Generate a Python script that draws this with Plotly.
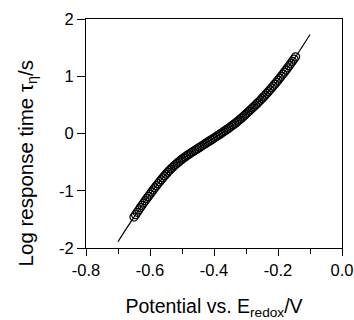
import plotly.graph_objects as go

# Measured data (open circles)
potential = [-0.650, -0.645, -0.640, -0.635, -0.630, -0.625, -0.620, -0.615, -0.610, -0.605,
             -0.600, -0.595, -0.590, -0.585, -0.580, -0.575, -0.570, -0.565, -0.560, -0.555,
             -0.550, -0.545, -0.540, -0.535, -0.530, -0.525, -0.520, -0.515, -0.510, -0.505,
             -0.500, -0.495, -0.490, -0.485, -0.480, -0.475, -0.470, -0.465, -0.460, -0.455,
             -0.450, -0.445, -0.440, -0.435, -0.430, -0.425, -0.420, -0.415, -0.410, -0.405,
             -0.400, -0.395, -0.390, -0.385, -0.380, -0.375, -0.370, -0.365, -0.360, -0.355,
             -0.350, -0.345, -0.340, -0.335, -0.330, -0.325, -0.320, -0.315, -0.310, -0.305,
             -0.300, -0.295, -0.290, -0.285, -0.280, -0.275, -0.270, -0.265, -0.260, -0.255,
             -0.250, -0.245, -0.240, -0.235, -0.230, -0.225, -0.220, -0.215, -0.210, -0.205,
             -0.200, -0.195, -0.190, -0.185, -0.180, -0.175, -0.170, -0.165, -0.160, -0.155,
             -0.150, -0.145]
log_tau = [-1.460, -1.418, -1.376, -1.335, -1.294, -1.254, -1.214, -1.175, -1.136, -1.098,
           -1.060, -1.022, -0.985, -0.948, -0.912, -0.877, -0.842, -0.808, -0.775, -0.742,
           -0.710, -0.679, -0.649, -0.620, -0.593, -0.567, -0.542, -0.518, -0.495, -0.472,
           -0.450, -0.429, -0.408, -0.388, -0.369, -0.350, -0.332, -0.314, -0.296, -0.278,
           -0.260, -0.242, -0.224, -0.206, -0.188, -0.170, -0.152, -0.134, -0.116, -0.098,
           -0.080, -0.062, -0.044, -0.026, -0.007, 0.012, 0.031, 0.050, 0.070, 0.090,
           0.110, 0.130, 0.151, 0.172, 0.194, 0.217, 0.240, 0.264, 0.289, 0.314,
           0.340, 0.366, 0.392, 0.418, 0.445, 0.472, 0.499, 0.526, 0.554, 0.582,
           0.610, 0.640, 0.670, 0.701, 0.732, 0.764, 0.796, 0.829, 0.862, 0.896,
           0.930, 0.965, 1.000, 1.036, 1.072, 1.109, 1.146, 1.184, 1.222, 1.261,
           1.300, 1.340]

# Fitted curve (solid line)
fit_potential = [-0.700, -0.675, -0.650, -0.625, -0.600, -0.575, -0.550, -0.525, -0.500,
                 -0.475, -0.450, -0.425, -0.400, -0.375, -0.350, -0.325, -0.300, -0.275,
                 -0.250, -0.225, -0.200, -0.175, -0.150, -0.125, -0.100]
fit_log_tau = [-1.890, -1.670, -1.460, -1.254, -1.060, -0.877, -0.710, -0.567, -0.450,
               -0.350, -0.260, -0.170, -0.080, 0.012, 0.110, 0.217, 0.340, 0.472,
               0.610, 0.764, 0.930, 1.109, 1.300, 1.510, 1.730]

x_tickvals = [-0.8, -0.6, -0.4, -0.2, 0.0]
x_ticktext = ["-0.8", "-0.6", "-0.4", "-0.2", "0.0"]
y_tickvals = [-2, -1, 0, 1, 2]
y_ticktext = ["-2", "-1", "0", "1", "2"]

font_family = "Liberation Sans, Arial, sans-serif"

fig = go.Figure()
fig.add_trace(go.Scatter(
    x=fit_potential, y=fit_log_tau, mode="lines",
    line=dict(color="black", width=1.2, shape="spline"),
    showlegend=False, hoverinfo="skip"))
fig.add_trace(go.Scatter(
    x=potential, y=log_tau, mode="markers",
    marker=dict(symbol="circle-open", size=8, color="black", line=dict(width=1.3, color="black")),
    showlegend=False))

fig.update_layout(
    width=354, height=320,
    margin=dict(l=86, r=12, t=19, b=72),
    paper_bgcolor="white", plot_bgcolor="white",
    font=dict(family=font_family, color="black", size=16.5),
)
fig.update_xaxes(
    range=[-0.8, 0.0], tickvals=x_tickvals, ticktext=x_ticktext,
    ticks="outside", ticklen=7, tickwidth=1, tickcolor="black",
    minor=dict(dtick=0.1, ticks="outside", ticklen=5, tickwidth=1, tickcolor="black", showgrid=False),
    showline=True, linecolor="black", linewidth=1, mirror=True,
    showgrid=False, zeroline=False, automargin=False,
    tickfont=dict(size=16.5),
    title=dict(text="Potential vs. E<sub>redox</sub>/V", font=dict(size=19.5), standoff=26),
)
fig.update_yaxes(
    range=[-2, 2], tickvals=y_tickvals, ticktext=y_ticktext,
    ticks="outside", ticklen=8, tickwidth=1, tickcolor="black",
    showline=True, linecolor="black", linewidth=1, mirror=True,
    showgrid=False, zeroline=False, automargin=False,
    tickfont=dict(size=16.5),
)
fig.add_annotation(
    text="Log response time τ<sub>η</sub>/s",
    xref="paper", yref="paper", x=-0.23, y=0.37,
    xanchor="center", yanchor="middle", textangle=-90, showarrow=False,
    font=dict(size=20.5, family=font_family, color="black"),
)

fig.write_html("out.html")
